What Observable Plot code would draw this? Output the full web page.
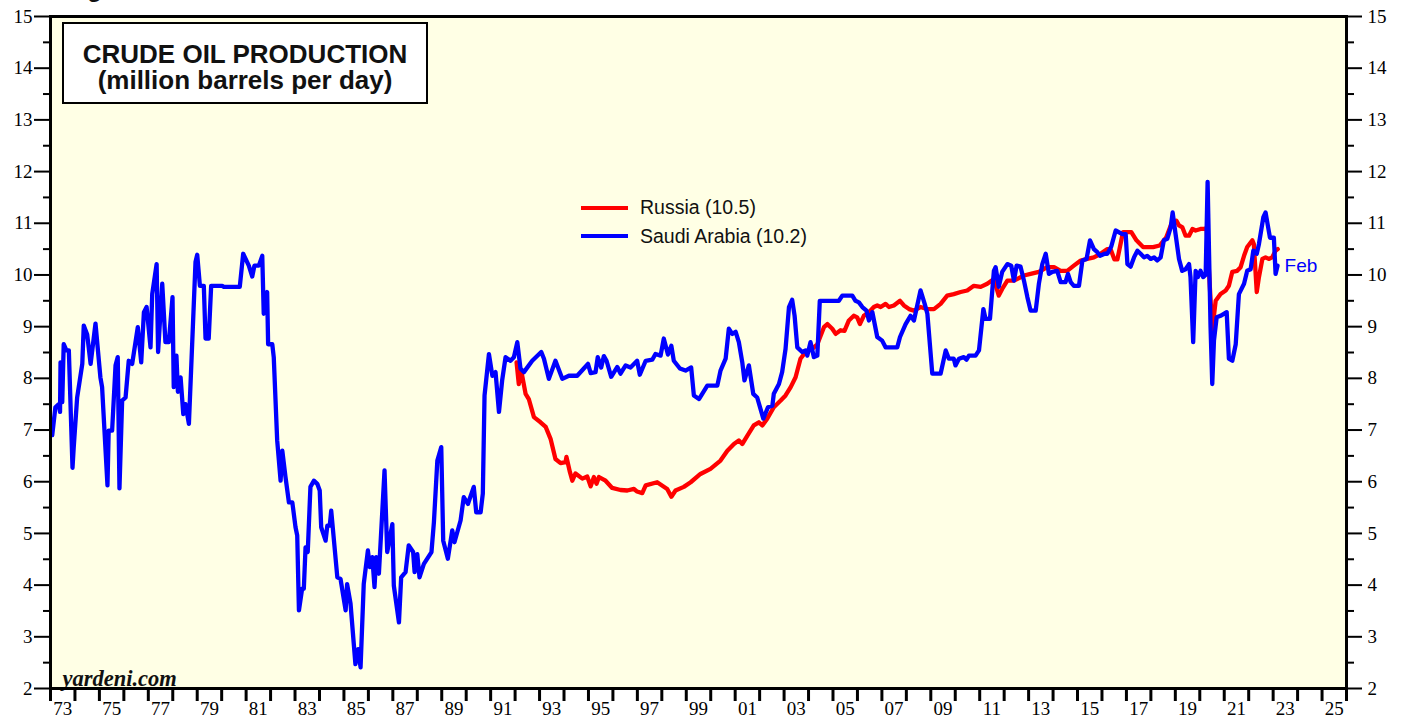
<!DOCTYPE html>
<html>
<head>
<meta charset="utf-8">
<script src="https://cdn.jsdelivr.net/npm/d3@7"></script>
<script src="https://cdn.jsdelivr.net/npm/@observablehq/plot@0.6"></script>
<style>
  html, body { margin: 0; padding: 0; background: white; }
  #wrap { position: relative; width: 1405px; height: 719px; overflow: hidden; }
  .sans { font-family: "Liberation Sans", Arial, Helvetica, sans-serif; }
  #fig { position: absolute; left: 66px; top: -23px; font-weight: bold; font-size: 24px; line-height: 24px; color: #111; white-space: nowrap; }
  #titlebox { position: absolute; left: 62px; top: 22px; width: 366px; height: 82px; box-sizing: border-box;
    border: 2.5px solid black; background: white; text-align: center; font-weight: bold; font-size: 26px;
    line-height: 26px; padding-top: 17px; color: #111; }
  #legend { position: absolute; left: 581px; top: 193.5px; font-size: 19.5px; color: #111; }
  .row { display: flex; align-items: center; height: 28.5px; white-space: nowrap; }
  .sw { display: inline-block; width: 47px; height: 4px; margin-right: 12px; }
</style>
</head>
<body>
<div id="wrap">
  <div id="fig" class="sans">Figure 1.</div>
</div>
<script>
// ---- data ----
const seriesNames = ["Russia", "Saudi Arabia"];
const latestValues = ["10.5", "10.2"];
const seriesColors = ["#FF0000", "#0000FF"];
const titleLines = ["CRUDE OIL PRODUCTION", "(million barrels per day)"];
const lastMonthLabel = "Feb";
const sourceLabel = "yardeni.com";
const yMajorTicks = [2,3,4,5,6,7,8,9,10,11,12,13,14,15];
const yMinorTicks = [2.5,3.5,4.5,5.5,6.5,7.5,8.5,9.5,10.5,11.5,12.5,13.5,14.5];
const xYearTicks = [1973,1974,1975,1976,1977,1978,1979,1980,1981,1982,1983,1984,1985,1986,1987,1988,1989,1990,1991,1992,1993,1994,1995,1996,1997,1998,1999,2000,2001,2002,2003,2004,2005,2006,2007,2008,2009,2010,2011,2012,2013,2014,2015,2016,2017,2018,2019,2020,2021,2022,2023,2024,2025,2026];
const xLabelYears = [1973,1975,1977,1979,1981,1983,1985,1987,1989,1991,1993,1995,1997,1999,2001,2003,2005,2007,2009,2011,2013,2015,2017,2019,2021,2023,2025];

const saudiArabia = [
[1973.07,6.9],[1973.20,7.44],[1973.34,7.5],[1973.39,7.35],[1973.41,8.31],[1973.48,7.54],[1973.54,8.66],[1973.65,8.54],[1973.75,8.54],[1973.90,6.27],
[1973.95,6.67],[1974.09,7.63],[1974.30,8.28],[1974.36,9.02],[1974.50,8.85],[1974.64,8.28],[1974.84,9.06],[1975.04,8.02],[1975.11,7.83],[1975.33,5.93],
[1975.38,6.99],[1975.52,6.99],[1975.66,8.25],[1975.75,8.41],[1975.82,5.87],[1975.93,7.57],[1976.07,7.63],[1976.20,8.34],[1976.34,8.28],[1976.57,8.99],
[1976.71,8.31],[1976.82,9.28],[1976.93,9.38],[1977.09,8.6],[1977.16,9.63],[1977.34,10.21],[1977.40,8.51],[1977.57,9.83],[1977.70,8.7],[1977.84,8.7],
[1977.99,9.57],[1978.04,7.83],[1978.15,8.44],[1978.21,7.74],[1978.32,8.02],[1978.43,7.31],[1978.52,7.5],[1978.66,7.12],[1978.93,10.25],[1979.00,10.39],
[1979.11,9.79],[1979.27,9.79],[1979.34,8.77],[1979.47,8.77],[1979.57,9.79],[1980.02,9.79],[1980.09,9.77],[1980.74,9.77],[1980.88,10.41],[1981.11,10.18],
[1981.25,9.97],[1981.34,10.18],[1981.52,10.18],[1981.66,10.37],[1981.72,9.25],[1981.86,9.67],[1981.90,8.66],[1982.07,8.66],[1982.13,8.41],[1982.27,6.8],
[1982.41,6.02],[1982.48,6.6],[1982.61,6.09],[1982.75,5.6],[1982.89,5.6],[1983.02,5.12],[1983.09,4.96],[1983.16,3.51],[1983.29,3.93],[1983.36,3.93],
[1983.43,4.73],[1983.52,4.64],[1983.63,5.9],[1983.77,6.02],[1983.91,5.96],[1984.01,5.83],[1984.07,5.12],[1984.25,4.86],[1984.32,5.15],[1984.42,5.15],
[1984.48,5.44],[1984.73,4.15],[1984.86,4.12],[1985.07,3.51],[1985.13,4.02],[1985.27,3.64],[1985.47,2.47],[1985.58,2.76],[1985.68,2.41],[1985.81,4.02],
[1985.98,4.67],[1986.06,4.35],[1986.16,4.54],[1986.25,3.96],[1986.32,4.54],[1986.43,4.22],[1986.66,6.22],[1986.77,4.64],[1986.98,5.18],[1987.04,3.99],
[1987.25,3.28],[1987.34,4.15],[1987.52,4.25],[1987.65,4.77],[1987.83,4.64],[1987.89,4.25],[1988.00,4.6],[1988.09,4.15],[1988.27,4.41],[1988.58,4.64],
[1988.68,5.22],[1988.82,6.41],[1988.98,6.67],[1989.06,4.86],[1989.25,4.51],[1989.43,5.06],[1989.52,4.83],[1989.77,5.25],[1989.90,5.7],[1990.07,5.57],
[1990.31,5.9],[1990.41,5.41],[1990.59,5.41],[1990.68,5.77],[1990.75,7.67],[1990.93,8.47],[1991.07,8.05],[1991.20,8.12],[1991.34,7.35],[1991.47,7.96],
[1991.61,8.41],[1991.81,8.34],[1991.95,8.41],[1992.09,8.7],[1992.22,8.19],[1992.36,8.12],[1992.70,8.34],[1993.07,8.51],[1993.18,8.38],[1993.38,7.99],
[1993.65,8.34],[1993.93,7.99],[1994.20,8.05],[1994.54,8.05],[1994.81,8.19],[1994.98,8.28],[1995.09,8.1],[1995.29,8.12],[1995.38,8.41],[1995.52,8.21],
[1995.63,8.43],[1995.74,8.34],[1995.93,8.03],[1996.18,8.22],[1996.31,8.09],[1996.52,8.25],[1996.72,8.21],[1996.99,8.34],[1997.10,8.07],[1997.34,8.34],
[1997.61,8.36],[1997.74,8.47],[1997.95,8.44],[1998.08,8.77],[1998.25,8.46],[1998.39,8.63],[1998.49,8.34],[1998.74,8.19],[1998.97,8.15],[1999.20,8.21],
[1999.31,7.67],[1999.52,7.6],[1999.86,7.86],[2000.27,7.86],[2000.40,8.15],[2000.61,8.38],[2000.74,8.96],[2000.88,8.86],[2001.02,8.9],[2001.15,8.7],
[2001.29,8.31],[2001.38,7.96],[2001.56,8.25],[2001.74,7.7],[2001.90,7.63],[2002.15,7.22],[2002.34,7.44],[2002.52,7.47],[2002.58,7.7],[2002.79,7.89],
[2002.92,8.12],[2003.06,8.57],[2003.20,9.38],[2003.33,9.52],[2003.43,9.21],[2003.54,8.6],[2003.74,8.51],[2003.88,8.54],[2003.95,8.44],[2004.08,8.7],
[2004.22,8.41],[2004.36,8.44],[2004.46,9.5],[2005.24,9.5],[2005.38,9.6],[2005.79,9.6],[2005.92,9.5],[2006.06,9.47],[2006.20,9.38],[2006.37,9.31],
[2006.47,9.12],[2006.61,9.28],[2006.81,8.8],[2007.01,8.73],[2007.15,8.6],[2007.63,8.6],[2007.74,8.8],[2007.97,9.05],[2008.17,9.21],[2008.31,9.12],
[2008.58,9.7],[2008.75,9.44],[2008.86,9.25],[2009.06,8.09],[2009.40,8.09],[2009.61,8.54],[2009.74,8.38],[2009.94,8.38],[2010.01,8.25],[2010.15,8.38],
[2010.35,8.41],[2010.46,8.36],[2010.56,8.44],[2010.83,8.44],[2010.97,8.54],[2011.15,9.34],[2011.24,9.15],[2011.42,9.15],[2011.58,10.08],[2011.65,10.15],
[2011.78,9.77],[2011.92,10.06],[2012.13,10.21],[2012.29,10.18],[2012.40,9.89],[2012.51,10.18],[2012.67,10.16],[2012.81,9.89],[2012.95,9.57],[2013.08,9.31],
[2013.29,9.31],[2013.42,9.83],[2013.56,10.21],[2013.70,10.41],[2013.83,10.02],[2013.97,10.06],[2014.17,10.08],[2014.31,9.86],[2014.51,9.86],[2014.61,10.02],
[2014.72,9.86],[2014.85,9.79],[2015.06,9.79],[2015.20,10.28],[2015.37,10.31],[2015.51,10.67],[2015.67,10.5],[2015.81,10.44],[2015.92,10.37],[2016.11,10.41],
[2016.22,10.41],[2016.38,10.55],[2016.56,10.86],[2016.83,10.79],[2016.97,10.79],[2017.04,10.21],[2017.17,10.16],[2017.31,10.34],[2017.45,10.47],[2017.58,10.41],
[2017.72,10.34],[2017.85,10.37],[2017.99,10.31],[2018.13,10.34],[2018.26,10.28],[2018.40,10.34],[2018.53,10.67],[2018.67,10.7],[2018.81,10.92],[2018.89,11.21],
[2019.01,10.79],[2019.15,10.31],[2019.28,10.08],[2019.42,10.11],[2019.56,10.21],[2019.62,9.96],[2019.73,8.7],[2019.83,10.08],[2019.92,9.96],[2020.03,10.08],
[2020.14,9.96],[2020.24,10.0],[2020.32,11.8],[2020.44,9.0],[2020.51,7.89],[2020.58,8.73],[2020.69,9.18],[2020.85,9.21],[2021.10,9.28],[2021.19,8.38],
[2021.33,8.34],[2021.47,8.66],[2021.60,9.63],[2021.81,9.83],[2021.94,10.08],[2022.08,10.11],[2022.19,10.47],[2022.33,10.41],[2022.42,10.6],[2022.60,11.12],
[2022.69,11.21],[2022.87,10.72],[2023.03,10.72],[2023.10,10.02],[2023.18,10.18]
];

const russia = [
[1992.06,8.31],[1992.15,7.89],[1992.25,8.15],[1992.43,7.7],[1992.56,7.6],[1992.77,7.25],[1993.04,7.15],[1993.25,7.06],[1993.45,6.83],[1993.65,6.44],
[1993.86,6.36],[1994.06,6.38],[1994.10,6.48],[1994.24,6.19],[1994.34,6.02],[1994.47,6.16],[1994.75,6.06],[1994.95,6.1],[1995.09,5.91],[1995.22,6.09],
[1995.33,5.96],[1995.43,6.09],[1995.70,6.02],[1995.97,5.88],[1996.31,5.84],[1996.59,5.83],[1996.86,5.86],[1996.99,5.81],[1997.20,5.78],[1997.34,5.93],
[1997.81,5.99],[1998.22,5.86],[1998.39,5.71],[1998.56,5.83],[1998.90,5.9],[1999.18,5.99],[1999.58,6.15],[1999.99,6.25],[2000.40,6.41],[2000.68,6.6],
[2000.95,6.73],[2001.15,6.8],[2001.29,6.73],[2001.50,6.89],[2001.76,7.09],[2001.97,7.15],[2002.11,7.09],[2002.31,7.22],[2002.58,7.44],[2002.86,7.57],
[2003.06,7.67],[2003.27,7.83],[2003.47,8.02],[2003.67,8.38],[2003.88,8.51],[2004.15,8.57],[2004.36,8.66],[2004.63,8.99],[2004.77,9.05],[2004.97,8.96],
[2005.11,8.86],[2005.31,8.93],[2005.47,8.92],[2005.65,9.12],[2005.85,9.21],[2005.99,9.18],[2006.10,9.05],[2006.26,9.21],[2006.47,9.28],[2006.67,9.38],
[2006.81,9.41],[2006.95,9.38],[2007.15,9.44],[2007.29,9.38],[2007.49,9.41],[2007.74,9.5],[2007.90,9.41],[2008.11,9.34],[2008.31,9.31],[2008.58,9.38],
[2008.86,9.34],[2009.13,9.34],[2009.40,9.44],[2009.67,9.6],[2009.94,9.63],[2010.22,9.67],[2010.49,9.7],[2010.76,9.79],[2011.04,9.77],[2011.31,9.83],
[2011.58,9.92],[2011.78,9.6],[2011.92,9.73],[2012.13,9.89],[2012.40,9.89],[2012.81,9.99],[2013.08,10.02],[2013.42,10.06],[2013.76,10.15],[2014.04,10.15],
[2014.31,10.08],[2014.58,10.08],[2014.85,10.18],[2015.13,10.28],[2015.40,10.31],[2015.67,10.34],[2015.94,10.41],[2016.22,10.5],[2016.35,10.5],[2016.51,10.3],
[2016.63,10.3],[2016.86,10.83],[2017.20,10.83],[2017.41,10.67],[2017.68,10.54],[2018.09,10.54],[2018.36,10.57],[2018.63,10.73],[2018.84,10.99],[2019.04,11.05],
[2019.15,10.96],[2019.29,10.92],[2019.42,10.76],[2019.56,10.76],[2019.70,10.89],[2019.83,10.86],[2020.03,10.89],[2020.17,10.89],[2020.28,10.9],[2020.51,8.93],
[2020.65,9.5],[2020.85,9.63],[2021.06,9.7],[2021.19,9.79],[2021.33,10.06],[2021.53,10.08],[2021.67,10.15],[2021.81,10.37],[2021.94,10.54],[2022.15,10.67],
[2022.21,10.6],[2022.33,9.67],[2022.42,9.96],[2022.56,10.31],[2022.69,10.34],[2022.82,10.31],[2022.96,10.34],[2023.10,10.47],[2023.19,10.5]
];

// ---- drawing ----
const serif = "'Liberation Serif', 'Times New Roman', Times, serif";
const sans = "'Liberation Sans', Arial, Helvetica, sans-serif";
const yy = d => String(Math.floor(d) % 100).padStart(2, "0");
const intFmt = d => String(d);

const chart = Plot.plot({
  width: 1405,
  height: 719,
  marginLeft: 50,
  marginRight: 59,
  marginTop: 16,
  marginBottom: 31,
  style: { background: "transparent", fontFamily: serif, fontSize: "19px", color: "black", overflow: "visible" },
  x: { domain: [xYearTicks[0], xYearTicks[xYearTicks.length - 1]] },
  y: { domain: [yMajorTicks[0], yMajorTicks[yMajorTicks.length - 1]] },
  marks: [
    Plot.frame({ fill: "#FFFFE5" }),
    Plot.axisY(yMajorTicks, { anchor: "left", tickSize: 16, tickPadding: 2, strokeWidth: 2, fontSize: 19, tickFormat: intFmt, label: null }),
    Plot.axisY(yMinorTicks, { anchor: "left", tickSize: 7, strokeWidth: 2, tickFormat: () => "", label: null }),
    Plot.axisY(yMajorTicks, { anchor: "right", tickSize: 15, tickPadding: 6, strokeWidth: 2, fontSize: 19, tickFormat: intFmt, label: null }),
    Plot.axisY(yMinorTicks, { anchor: "right", tickSize: 7, strokeWidth: 2, tickFormat: () => "", label: null }),
    Plot.axisX(xYearTicks, { anchor: "bottom", tickSize: 13, strokeWidth: 3, tickFormat: () => "", label: null }),
    Plot.axisX(xLabelYears.map(y => y + 0.5), { anchor: "bottom", tickSize: 0, tickPadding: 12.5, fontSize: 19, tickFormat: yy, label: null }),
    Plot.line(russia, { x: d => d[0], y: d => d[1], stroke: seriesColors[0], strokeWidth: 4.3, strokeLinejoin: "round" }),
    Plot.line(saudiArabia, { x: d => d[0], y: d => d[1], stroke: seriesColors[1], strokeWidth: 4.3, strokeLinejoin: "round" }),
    Plot.text([saudiArabia[saudiArabia.length - 1]], {
      x: d => d[0], y: d => d[1], text: () => lastMonthLabel, dx: 7, textAnchor: "start",
      fill: seriesColors[1], fontFamily: sans, fontSize: 19
    }),
    Plot.text([sourceLabel], {
      text: d => d, frameAnchor: "bottom-left", dx: 12, dy: -3, lineAnchor: "bottom", textAnchor: "start",
      fontFamily: serif, fontSize: 22.5, fontWeight: "bold", fontStyle: "italic", fill: "#111"
    }),
    Plot.frame({ stroke: "black", strokeWidth: 3 })
  ]
});

const wrap = document.getElementById("wrap");
chart.style.position = "absolute";
chart.style.left = "0px";
chart.style.top = "0px";
wrap.appendChild(chart);

// title box
const tb = document.createElement("div");
tb.id = "titlebox";
tb.className = "sans";
tb.innerHTML = titleLines.map(t => `<div>${t}</div>`).join("");
wrap.appendChild(tb);

// legend
const lg = document.createElement("div");
lg.id = "legend";
lg.className = "sans";
lg.innerHTML = seriesNames.map((n, i) =>
  `<div class="row"><span class="sw" style="background:${seriesColors[i]}"></span><span>${n} (${latestValues[i]})</span></div>`
).join("");
wrap.appendChild(lg);
</script>
</body>
</html>
